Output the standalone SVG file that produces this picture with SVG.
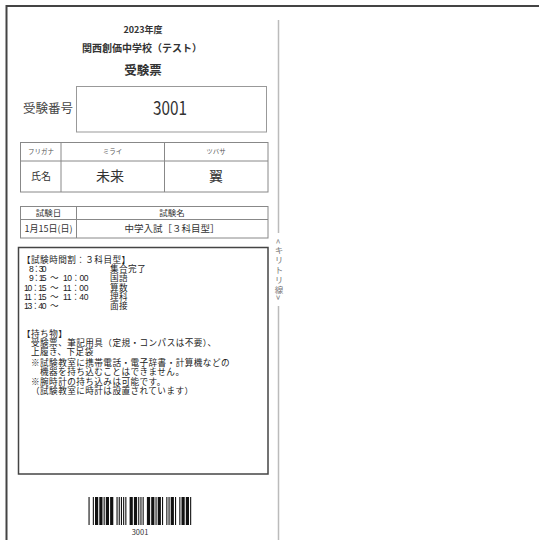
<svg xmlns="http://www.w3.org/2000/svg" width="539" height="540" viewBox="0 0 539 540">
<style>
  text { font-family: "Noto Sans CJK JP", "Noto Sans", sans-serif; fill: #333; }
  .b { font-weight: bold; }
  .c { text-anchor: middle; }
  .cell { fill: #fff; stroke: #888; stroke-width: 1; }
  .ln { stroke: #888; stroke-width: 1; }
  .ins { font-family: "Liberation Sans", "Noto Sans CJK JP", sans-serif; font-size: 8.6px; letter-spacing: 0.45px; fill: #222; }
  .bar { fill: #111; }
</style>
<rect x="0" y="0" width="539" height="540" fill="#fff"/>

<g id="border">
  <line x1="6.5" y1="6" x2="539" y2="6" stroke="#444" stroke-width="2"/>
  <line x1="6.5" y1="5" x2="6.5" y2="540" stroke="#444" stroke-width="2"/>
</g>

<g id="cut-line">
  <line x1="278.5" y1="20" x2="278.5" y2="233" stroke="#bbb" stroke-width="1.5"/>
  <line x1="278.5" y1="306" x2="278.5" y2="540" stroke="#bbb" stroke-width="1.5"/>
  <text x="279" y="239" font-size="8.5" style="writing-mode: vertical-rl; fill:#777;" letter-spacing="1.5">&lt;キリトリ線&gt;</text>
</g>

<g id="header">
  <text class="b c" x="143" y="33" font-size="9">2023年度</text>
  <text class="b c" x="142" y="51.5" font-size="10">関西創価中学校（テスト）</text>
  <text class="b c" x="143" y="74.5" font-size="12.5">受験票</text>
</g>

<g id="exam-number">
  <text x="23" y="113" font-size="12.5" style="fill:#444">受験番号</text>
  <rect x="76.5" y="86.5" width="190" height="45.5" fill="#fff" stroke="#999" stroke-width="1"/>
  <text class="c" x="170" y="115" font-size="18.5" textLength="34" lengthAdjust="spacingAndGlyphs">3001</text>
</g>

<g id="name-table">
  <rect class="cell" x="20.5" y="142.5" width="247.5" height="49.5"/>
  <line class="ln" x1="20.5" y1="161" x2="268" y2="161"/>
  <line class="ln" x1="61" y1="142.5" x2="61" y2="192"/>
  <line class="ln" x1="164.5" y1="142.5" x2="164.5" y2="192"/>
  <text class="c" x="41" y="153.5" font-size="6.5" style="fill:#555">フリガナ</text>
  <text class="c" x="112.5" y="153.5" font-size="6.5" style="fill:#555">ミライ</text>
  <text class="c" x="216" y="153.5" font-size="6.5" style="fill:#555">ツバサ</text>
  <text class="c" x="41" y="180" font-size="10">氏名</text>
  <text class="c" x="110" y="181" font-size="14">未来</text>
  <text class="c" x="216" y="181" font-size="14">翼</text>
</g>

<g id="date-table">
  <rect class="cell" x="20.5" y="206.5" width="247.5" height="31.5"/>
  <line class="ln" x1="20.5" y1="219.5" x2="268" y2="219.5"/>
  <line class="ln" x1="76.5" y1="206.5" x2="76.5" y2="238"/>
  <text class="c" x="48.5" y="216" font-size="8.5">試験日</text>
  <text class="c" x="172" y="216" font-size="8.5">試験名</text>
  <text class="c" x="48.5" y="232" font-size="9">1月15日(日)</text>
  <text class="c" x="172" y="232" font-size="9.5">中学入試［３科目型］</text>
</g>

<g id="instructions">
  <rect x="18.5" y="247.5" width="249.5" height="226.5" fill="#fff" stroke="#444" stroke-width="1.5"/>
  <text class="ins">
    <tspan x="22" y="263">【試験時間割：３科目型】</tspan>
    <tspan x="29" y="272.2" textLength="18">8：30</tspan>
    <tspan x="110" y="272.2">集合完了</tspan>
    <tspan x="29" y="281.4" textLength="18">9：15</tspan>
    <tspan x="50" y="281.4">～</tspan>
    <tspan x="63" y="281.4" textLength="26">10：00</tspan>
    <tspan x="110" y="281.4">国語</tspan>
    <tspan x="24" y="290.6" textLength="23">10：15</tspan>
    <tspan x="50" y="290.6">～</tspan>
    <tspan x="63" y="290.6" textLength="26">11：00</tspan>
    <tspan x="110" y="290.6">算数</tspan>
    <tspan x="24" y="299.8" textLength="23">11：15</tspan>
    <tspan x="50" y="299.8">～</tspan>
    <tspan x="63" y="299.8" textLength="26">11：40</tspan>
    <tspan x="110" y="299.8">理科</tspan>
    <tspan x="24" y="309" textLength="23">13：40</tspan>
    <tspan x="50" y="309">～</tspan>
    <tspan x="110" y="309">面接</tspan>
  </text>
  <text class="ins">
    <tspan x="22" y="336.5">【持ち物】</tspan>
    <tspan x="31" y="346">受験票、筆記用具（定規・コンパスは不要）、</tspan>
    <tspan x="31" y="355">上履き、下足袋</tspan>
    <tspan x="31" y="366">※試験教室に携帯電話・電子辞書・計算機などの</tspan>
    <tspan x="40" y="375">機器を持ち込むことはできません。</tspan>
    <tspan x="31" y="384.5">※腕時計の持ち込みは可能です。</tspan>
    <tspan x="31" y="393.5">（試験教室に時計は設置されています）</tspan>
  </text>
</g>

<g id="barcode">
  <rect class="bar" x="88.5" y="497" width="1.1" height="28"/>
  <rect class="bar" x="92.8" y="497" width="1.1" height="28"/>
  <rect class="bar" x="95.0" y="497" width="3.2" height="28"/>
  <rect class="bar" x="99.3" y="497" width="3.2" height="28"/>
  <rect class="bar" x="103.6" y="497" width="1.1" height="28"/>
  <rect class="bar" x="105.8" y="497" width="3.2" height="28"/>
  <rect class="bar" x="110.1" y="497" width="3.2" height="28"/>
  <rect class="bar" x="116.5" y="497" width="1.1" height="28"/>
  <rect class="bar" x="118.7" y="497" width="1.1" height="28"/>
  <rect class="bar" x="120.9" y="497" width="1.1" height="28"/>
  <rect class="bar" x="123.1" y="497" width="1.1" height="28"/>
  <rect class="bar" x="125.3" y="497" width="1.1" height="28"/>
  <rect class="bar" x="129.6" y="497" width="3.2" height="28"/>
  <rect class="bar" x="133.9" y="497" width="3.2" height="28"/>
  <rect class="bar" x="138.2" y="497" width="1.1" height="28"/>
  <rect class="bar" x="140.4" y="497" width="1.1" height="28"/>
  <rect class="bar" x="142.6" y="497" width="1.1" height="28"/>
  <rect class="bar" x="146.9" y="497" width="3.2" height="28"/>
  <rect class="bar" x="151.2" y="497" width="3.2" height="28"/>
  <rect class="bar" x="155.5" y="497" width="1.1" height="28"/>
  <rect class="bar" x="157.7" y="497" width="3.2" height="28"/>
  <rect class="bar" x="162.0" y="497" width="1.1" height="28"/>
  <rect class="bar" x="166.3" y="497" width="1.1" height="28"/>
  <rect class="bar" x="168.5" y="497" width="1.1" height="28"/>
  <rect class="bar" x="170.7" y="497" width="3.2" height="28"/>
  <rect class="bar" x="175.0" y="497" width="1.1" height="28"/>
  <rect class="bar" x="179.3" y="497" width="1.1" height="28"/>
  <rect class="bar" x="181.5" y="497" width="3.2" height="28"/>
  <rect class="bar" x="185.8" y="497" width="3.2" height="28"/>
  <rect class="bar" x="190.1" y="497" width="1.1" height="28"/>
  <text class="c" x="140" y="535" font-size="7.5">3001</text>
</g>
</svg>
